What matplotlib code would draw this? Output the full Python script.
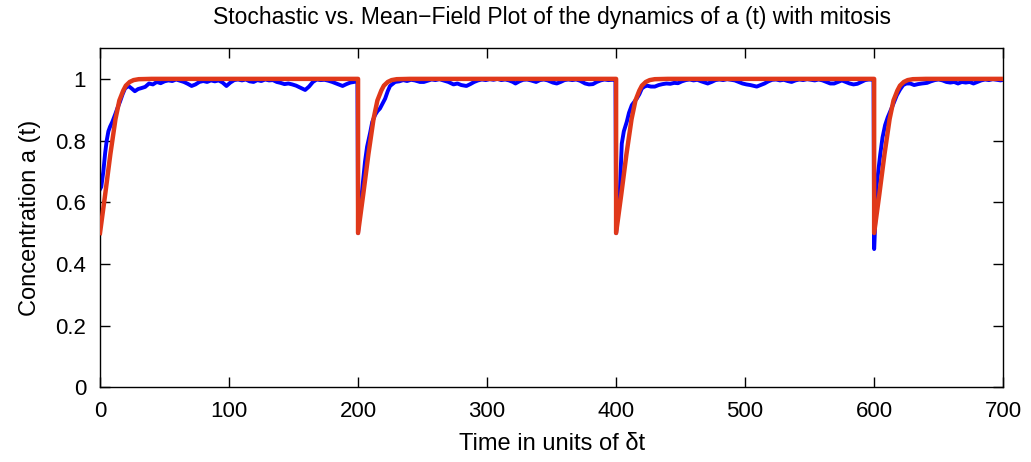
import matplotlib
matplotlib.use('Agg')
import matplotlib.pyplot as plt
import numpy as np

plt.rcParams['font.family'] = ['Liberation Sans', 'DejaVu Sans']

# mean-field curve, one cycle (time after division, a)
division_times = [0, 200, 400, 600]
red_offset = [0, 4, 8, 12, 15, 18, 20, 23, 26, 30, 40]
red_shape = [0.5, 0.625, 0.755, 0.87, 0.93, 0.962, 0.978, 0.99, 0.996, 0.999, 1.0]
t_end = 700

# stochastic curve
blue_t = [0, 1, 2.6, 4, 5.2, 6.5, 7.8, 9.5, 11.6, 13.5, 15.5, 17.5, 19.4, 22, 24.5, 27, 29.5, 32, 35,
          38, 41, 44, 47, 50, 53, 56, 59, 62, 65, 68, 71, 74, 77, 80, 83, 86, 89, 92, 95, 98, 101,
          104, 107, 110, 113, 116, 119, 122, 125, 128, 131, 134, 137, 140, 143, 146, 149, 152, 155,
          159, 162, 165, 168, 171, 174, 177, 180, 183, 186, 188, 191, 194, 197, 199.5,
          200, 201, 202.8, 205.4, 207, 209.3, 211, 213.2, 215, 217, 219, 221, 223, 224.8, 228.7,
          232, 235, 238, 241, 244, 248, 251, 254, 257, 260, 263, 266, 270, 274, 277, 280, 284,
          287, 290, 293, 296, 299, 302, 305, 308, 311, 314, 317, 320, 322, 325, 328, 331, 334,
          338, 341, 344, 347, 351, 354, 357, 360, 363, 366, 369, 372, 376, 379, 382, 385, 388,
          391, 394, 397, 399.5,
          400, 401.5, 403, 404.4, 406, 408.3, 410, 412.2, 414, 416, 418, 420, 422, 424, 427, 430,
          433, 436, 439, 442, 445, 448, 451, 454, 457, 460, 463, 466, 469, 471, 474, 477, 480,
          483, 486, 489, 492, 495, 498, 501, 504, 507, 509, 512, 515, 518, 521, 524, 527, 530,
          533, 536, 539, 542, 545, 548, 551, 554, 557, 560, 563, 566, 569, 572, 575, 578, 581,
          584, 587, 590, 593, 596, 599.5,
          600, 601, 602, 604.7, 606.5, 608.5, 610.5, 612.4, 615, 617.6, 620, 622.5, 625, 628, 631,
          634, 637, 641, 644, 647, 650, 653, 656, 659, 662, 665, 668, 671, 674, 677, 680, 683,
          686, 689, 692, 695, 698, 700]
blue_a = [0.642, 0.65, 0.70, 0.76, 0.80, 0.83, 0.845, 0.86, 0.883, 0.905, 0.926, 0.95, 0.969, 0.977,
          0.969, 0.96, 0.967, 0.97, 0.974, 0.985, 0.982, 0.99, 0.986, 0.992, 0.995, 0.993, 0.998,
          0.994, 0.99, 0.984, 0.977, 0.982, 0.99, 0.993, 0.99, 0.995, 0.992, 0.995, 0.988, 0.977,
          0.988, 0.996, 0.998, 0.995, 0.998, 0.992, 0.99, 0.996, 0.993, 0.998, 0.995, 0.996, 0.99,
          0.987, 0.983, 0.985, 0.982, 0.978, 0.972, 0.964, 0.975, 0.99, 0.998, 0.996, 0.997, 0.994,
          0.99, 0.985, 0.98, 0.977, 0.983, 0.988, 0.99, 0.992,
          0.5, 0.56, 0.625, 0.732, 0.78, 0.824, 0.86, 0.883, 0.895, 0.904, 0.92, 0.936, 0.96, 0.977,
          0.99, 0.992, 0.996, 0.993, 0.997, 0.995, 0.99, 0.99, 0.994, 0.998, 0.996, 0.999, 0.995,
          0.99, 0.982, 0.985, 0.98, 0.977, 0.983, 0.99, 0.995, 0.998, 0.996, 0.999, 0.997, 1.0,
          0.996, 0.998, 0.995, 0.99, 0.985, 0.992, 0.997, 0.998, 0.995, 0.99, 0.996, 0.998, 0.995,
          0.988, 0.985, 0.99, 0.996, 0.998, 0.996, 0.998, 0.994, 0.985, 0.982, 0.983, 0.99, 0.995,
          0.998, 0.996, 0.997, 0.996,
          0.5, 0.57, 0.646, 0.79, 0.83, 0.861, 0.89, 0.915, 0.925, 0.936, 0.95, 0.969, 0.975, 0.978,
          0.975, 0.975, 0.98, 0.983, 0.985, 0.984, 0.987, 0.986, 0.992, 0.996, 0.998, 0.995, 0.997,
          0.992, 0.988, 0.985, 0.99, 0.996, 0.998, 0.996, 0.999, 0.997, 0.995, 0.99, 0.985, 0.982,
          0.98, 0.977, 0.975, 0.98, 0.985, 0.992, 0.997, 0.998, 0.995, 0.997, 0.993, 0.99, 0.995,
          0.998, 0.996, 0.999, 0.997, 0.995, 0.998, 0.995, 0.99, 0.985, 0.985, 0.99, 0.995, 0.99,
          0.985, 0.982, 0.984, 0.99, 0.996, 0.998, 0.997,
          0.448, 0.55, 0.657, 0.754, 0.81, 0.85, 0.875, 0.894, 0.92, 0.947, 0.965, 0.98, 0.985,
          0.985, 0.98, 0.983, 0.985, 0.987, 0.992, 0.996, 0.998, 0.995, 0.99, 0.988, 0.99, 0.985,
          0.99, 0.988, 0.99, 0.985, 0.99, 0.995, 0.998, 0.996, 0.999, 0.997, 0.995, 0.997]

# build the full mean-field curve from the cycle
red_t = []
red_a = []
for i, t0 in enumerate(division_times):
    if i > 0:
        red_t.append(t0)
        red_a.append(1.0)
    red_t += [t0 + o for o in red_offset]
    red_a += red_shape
red_t.append(t_end)
red_a.append(1.0)

fig = plt.figure(figsize=(10.31, 4.62), dpi=100)
ax = fig.add_axes([0.097, 0.162, 0.876, 0.734])

ax.plot(blue_t, blue_a, color='#0000ff', lw=2.8, zorder=2)
ax.plot(red_t, red_a, color='#e0381a', lw=3.2, zorder=3)

ax.set_xlim(0, 700)
ax.set_ylim(0, 1.1)
ax.set_xticks(np.arange(0, 701, 100))
ax.set_yticks([0, 0.2, 0.4, 0.6, 0.8, 1])
ax.set_yticklabels(['0', '0.2', '0.4', '0.6', '0.8', '1'])
ax.tick_params(direction='in', length=7, width=1, top=True, right=True, labelsize=16, pad=10)
for s in ax.spines.values():
    s.set_linewidth(1.0)

ax.set_title('Stochastic vs. Mean\u2212Field Plot of the dynamics of a (t) with mitosis', fontsize=16.5, pad=17)
ax.set_xlabel('Time in units of \u03b4t', fontsize=17, labelpad=8)
ax.set_ylabel('Concentration a (t)', fontsize=17, labelpad=10)

fig.savefig('out.png', dpi=100)
